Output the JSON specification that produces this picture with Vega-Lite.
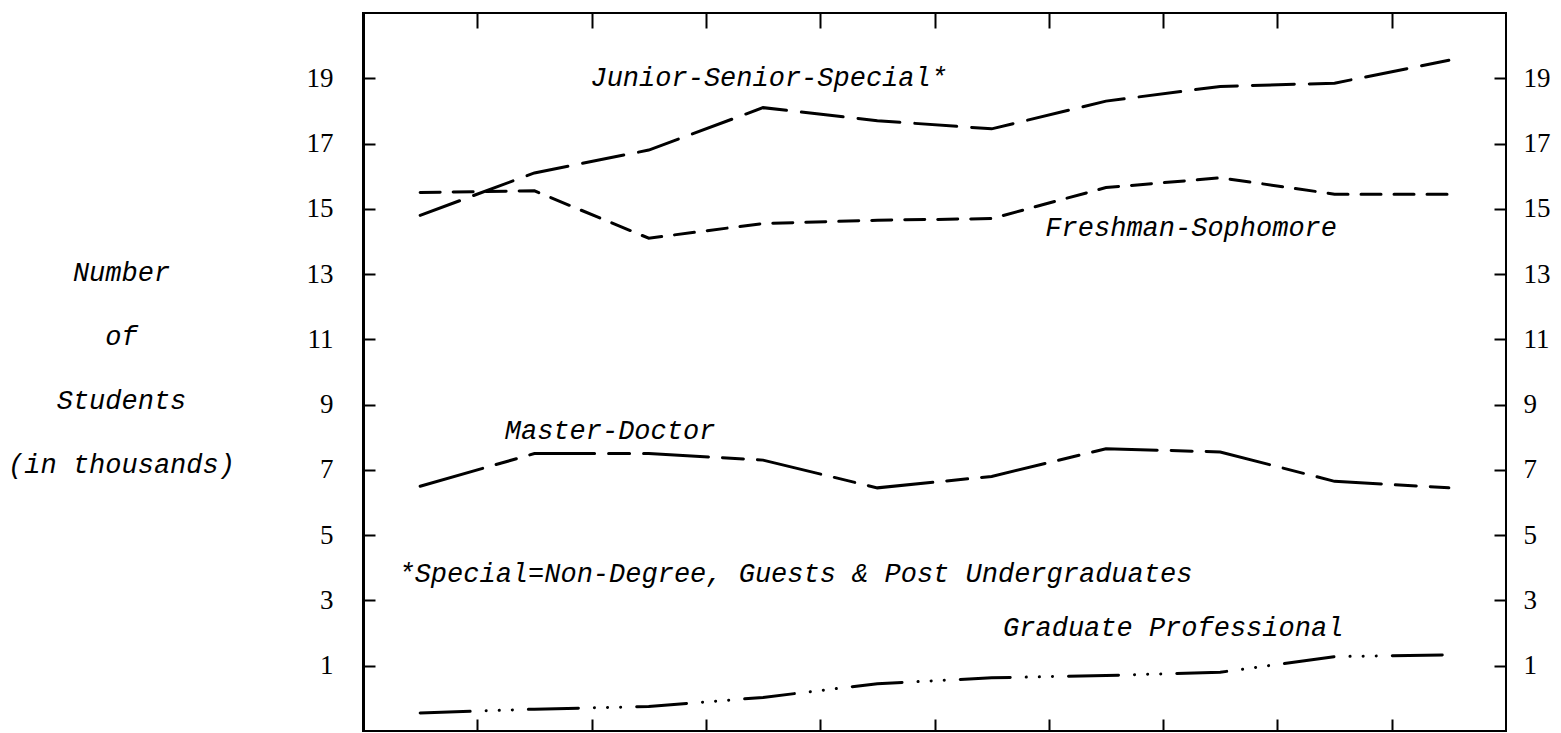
{
  "$schema": "https://vega.github.io/schema/vega-lite/v6.json",
  "width": 1143,
  "height": 718,
  "autosize": {"type": "none"},
  "padding": {"left": 363, "top": 13, "right": 55, "bottom": 2},
  "background": "white",
  "config": {
    "view": {"stroke": "black", "strokeWidth": 2},
    "axis": {"grid": false, "domain": false, "tickColor": "black", "tickWidth": 2, "labelColor": "black", "titleColor": "black"}
  },
  "resolve": {"axis": {"x": "independent", "y": "independent"}},
  "datasets": {
    "enrollment": [
      {"series": "Junior-Senior-Special", "period": 1, "students": 14.8},
      {"series": "Junior-Senior-Special", "period": 2, "students": 16.1},
      {"series": "Junior-Senior-Special", "period": 3, "students": 16.8},
      {"series": "Junior-Senior-Special", "period": 4, "students": 18.1},
      {"series": "Junior-Senior-Special", "period": 5, "students": 17.7},
      {"series": "Junior-Senior-Special", "period": 6, "students": 17.45},
      {"series": "Junior-Senior-Special", "period": 7, "students": 18.3},
      {"series": "Junior-Senior-Special", "period": 8, "students": 18.75},
      {"series": "Junior-Senior-Special", "period": 9, "students": 18.85},
      {"series": "Junior-Senior-Special", "period": 10, "students": 19.55},
      {"series": "Freshman-Sophomore", "period": 1, "students": 15.5},
      {"series": "Freshman-Sophomore", "period": 2, "students": 15.55},
      {"series": "Freshman-Sophomore", "period": 3, "students": 14.1},
      {"series": "Freshman-Sophomore", "period": 4, "students": 14.55},
      {"series": "Freshman-Sophomore", "period": 5, "students": 14.65},
      {"series": "Freshman-Sophomore", "period": 6, "students": 14.7},
      {"series": "Freshman-Sophomore", "period": 7, "students": 15.65},
      {"series": "Freshman-Sophomore", "period": 8, "students": 15.95},
      {"series": "Freshman-Sophomore", "period": 9, "students": 15.45},
      {"series": "Freshman-Sophomore", "period": 10, "students": 15.45},
      {"series": "Master-Doctor", "period": 1, "students": 6.5},
      {"series": "Master-Doctor", "period": 2, "students": 7.5},
      {"series": "Master-Doctor", "period": 3, "students": 7.5},
      {"series": "Master-Doctor", "period": 4, "students": 7.3},
      {"series": "Master-Doctor", "period": 5, "students": 6.45},
      {"series": "Master-Doctor", "period": 6, "students": 6.8},
      {"series": "Master-Doctor", "period": 7, "students": 7.65},
      {"series": "Master-Doctor", "period": 8, "students": 7.55},
      {"series": "Master-Doctor", "period": 9, "students": 6.65},
      {"series": "Master-Doctor", "period": 10, "students": 6.45},
      {"series": "Graduate Professional", "period": 1, "students": -0.45},
      {"series": "Graduate Professional", "period": 2, "students": -0.33},
      {"series": "Graduate Professional", "period": 3, "students": -0.25},
      {"series": "Graduate Professional", "period": 4, "students": 0.03},
      {"series": "Graduate Professional", "period": 5, "students": 0.45},
      {"series": "Graduate Professional", "period": 6, "students": 0.63},
      {"series": "Graduate Professional", "period": 7, "students": 0.7},
      {"series": "Graduate Professional", "period": 8, "students": 0.8},
      {"series": "Graduate Professional", "period": 9, "students": 1.28},
      {"series": "Graduate Professional", "period": 10, "students": 1.33}
    ],
    "notes": [
      {"label": "Junior-Senior-Special*", "period": 2.49, "students": 19.0},
      {"label": "Freshman-Sophomore", "period": 6.47, "students": 14.4},
      {"label": "Master-Doctor", "period": 1.74, "students": 8.2},
      {"label": "*Special=Non-Degree, Guests & Post Undergraduates", "period": 0.81, "students": 3.8},
      {"label": "Graduate Professional", "period": 6.1, "students": 2.15}
    ]
  },
  "layer": [
    {
      "data": {"name": "enrollment"},
      "mark": {"type": "line", "color": "black", "strokeCap": "round"},
      "encoding": {
        "x": {
          "field": "period", "type": "quantitative",
          "scale": {"domain": [0.5, 10.5], "nice": false, "zero": false},
          "axis": {"orient": "bottom", "values": [1.5, 2.5, 3.5, 4.5, 5.5, 6.5, 7.5, 8.5, 9.5], "labels": false, "tickSize": -12, "title": null}
        },
        "y": {
          "field": "students", "type": "quantitative",
          "scale": {"domain": [-1, 21], "nice": false, "zero": false},
          "axis": {
            "orient": "left", "values": [1, 3, 5, 7, 9, 11, 13, 15, 17, 19],
            "tickSize": -12, "labelPadding": 42,
            "labelFont": "Liberation Serif", "labelFontSize": 27,
            "domain": true, "domainColor": "black", "domainWidth": 3,
            "title": ["Number", "of", "Students", "(in thousands)"],
            "titleFont": "Liberation Mono", "titleFontStyle": "italic", "titleFontWeight": "normal", "titleFontSize": 27,
            "titleAngle": 0, "titleAlign": "center", "titleBaseline": "alphabetic",
            "titleLineHeight": 64, "titleX": -242, "titleY": 267
          }
        },
        "strokeDash": {
          "field": "series", "type": "nominal", "legend": null,
          "scale": {
            "domain": ["Junior-Senior-Special", "Freshman-Sophomore", "Master-Doctor", "Graduate Professional"],
            "range": [[42, 15], [20, 13], [65, 14, 21, 14], [50, 16, 0.1, 13, 0.1, 13, 0.1, 16]]
          }
        },
        "strokeWidth": {
          "field": "series", "type": "nominal", "legend": null,
          "scale": {
            "domain": ["Junior-Senior-Special", "Freshman-Sophomore", "Master-Doctor", "Graduate Professional"],
            "range": [3, 3, 3, 4.5]
          }
        }
      }
    },
    {
      "data": {"name": "notes"},
      "mark": {"type": "text", "align": "left", "baseline": "middle", "font": "Liberation Mono", "fontStyle": "italic", "fontSize": 27, "color": "black"},
      "encoding": {
        "x": {
          "field": "period", "type": "quantitative",
          "scale": {"domain": [0.5, 10.5], "nice": false, "zero": false},
          "axis": {"orient": "top", "values": [1.5, 2.5, 3.5, 4.5, 5.5, 6.5, 7.5, 8.5, 9.5], "labels": false, "tickSize": -15, "title": null}
        },
        "y": {
          "field": "students", "type": "quantitative",
          "scale": {"domain": [-1, 21], "nice": false, "zero": false},
          "axis": {
            "orient": "right", "values": [1, 3, 5, 7, 9, 11, 13, 15, 17, 19],
            "tickSize": -12, "labelPadding": 29,
            "labelFont": "Liberation Serif", "labelFontSize": 27, "title": null
          }
        },
        "text": {"field": "label"}
      }
    }
  ]
}
